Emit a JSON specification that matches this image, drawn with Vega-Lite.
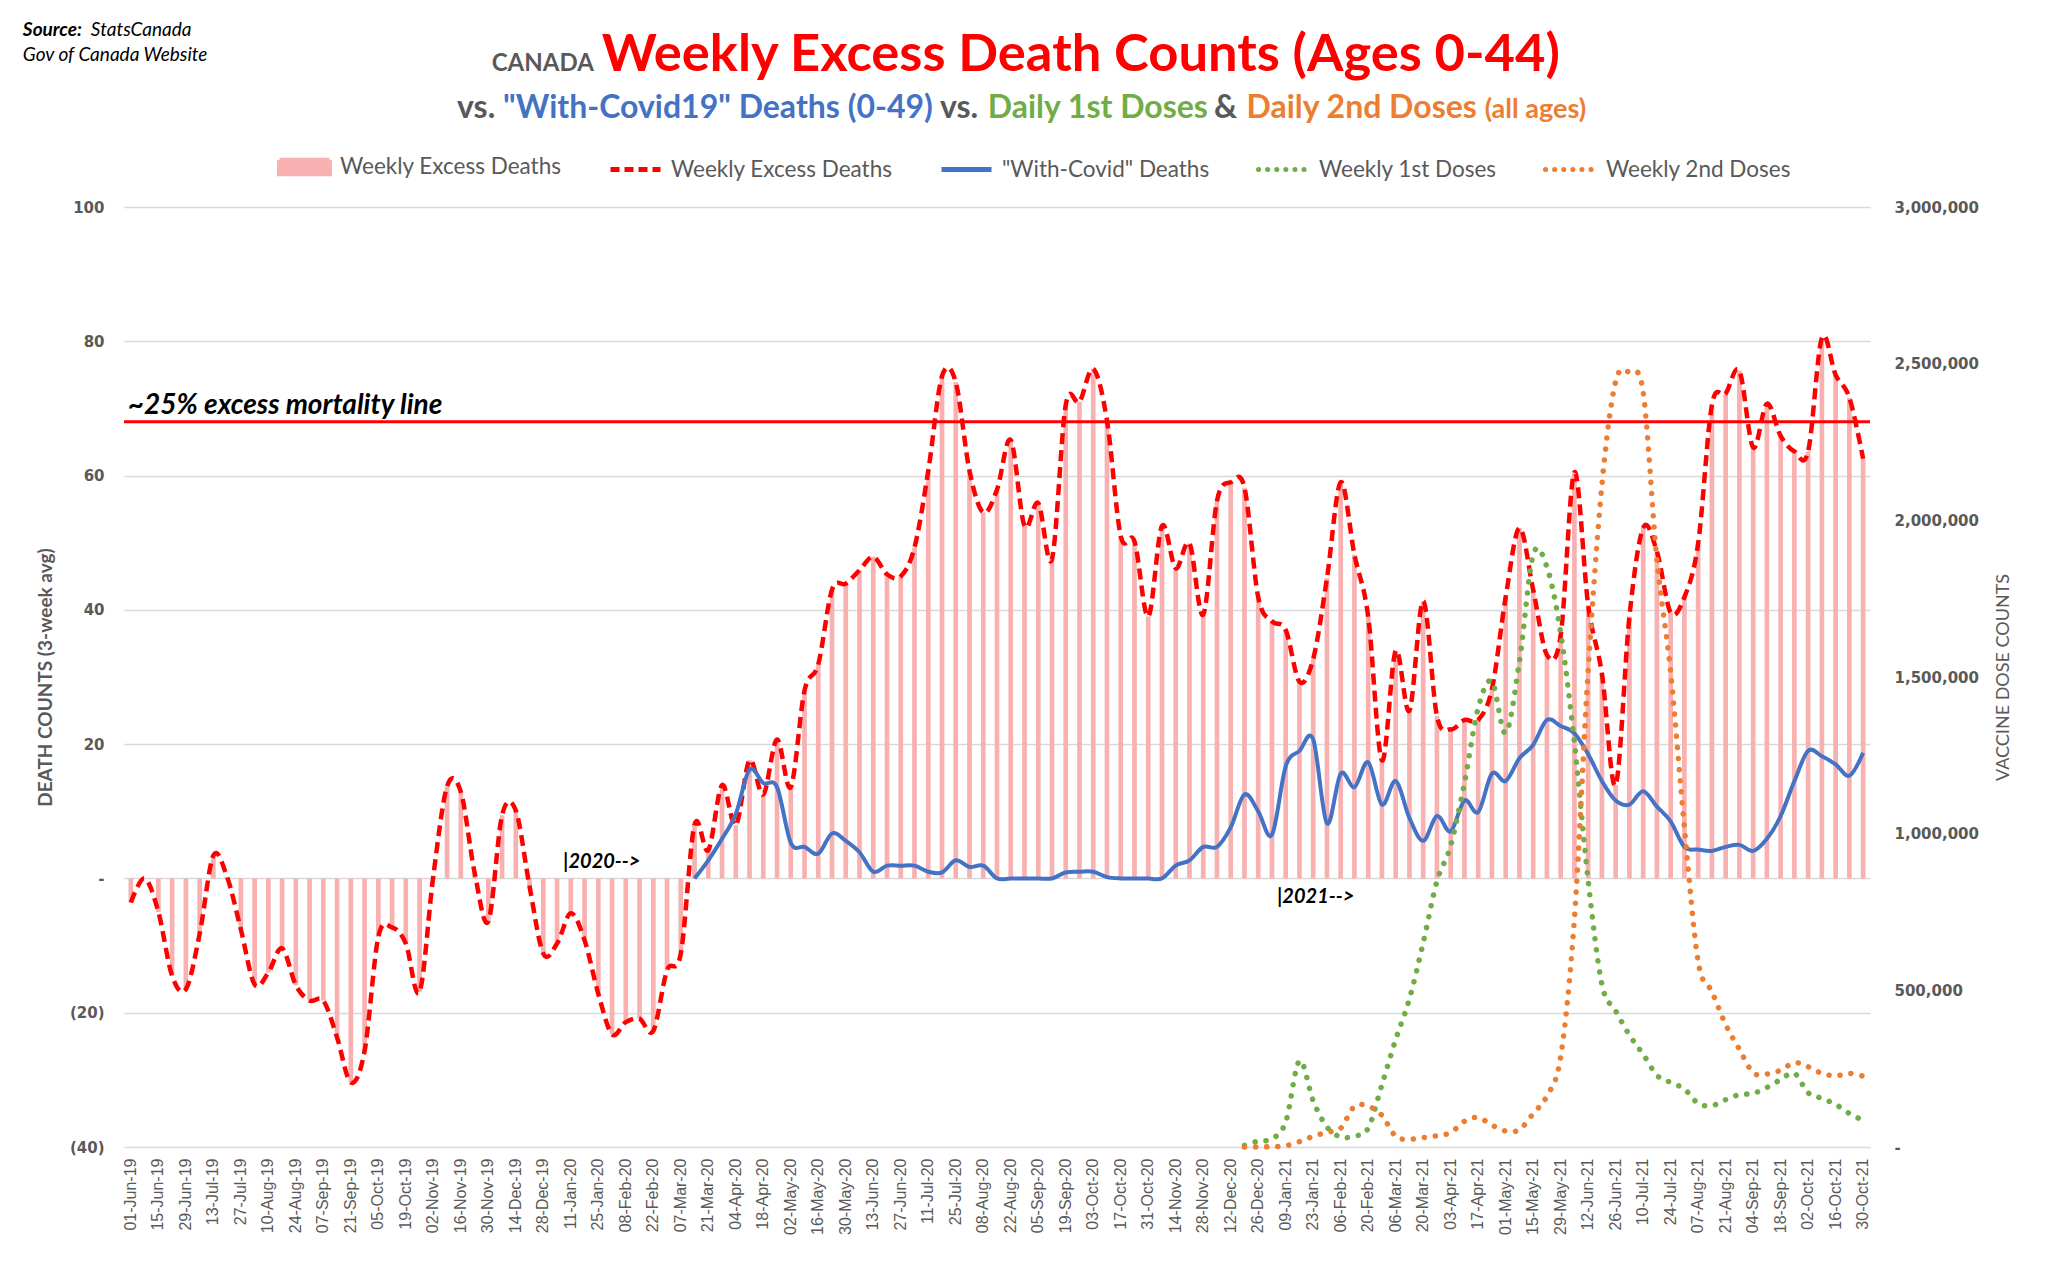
{
  "$schema": "https://vega.github.io/schema/vega-lite/v6.json",
  "autosize": {"type": "none"},
  "width": 1746,
  "height": 940,
  "padding": {"left": 124, "top": 207, "right": 178, "bottom": 119},
  "background": "white",
  "config": {
    "view": {"stroke": null},
    "font": "Lato",
    "axisX": {"labelFont": "Liberation Sans", "labelFontSize": 16, "labelColor": "#595959", "labelAngle": 270, "labelPadding": 11, "domain": false, "ticks": false, "grid": false, "labelOverlap": false},
    "axisLeft": {"labelFont": "DejaVu Sans", "labelFontWeight": "bold", "labelFontSize": 15, "labelColor": "#595959", "labelPadding": 20, "domain": false, "ticks": false, "grid": true, "gridColor": "#D9D9D9", "gridWidth": 1.5, "tickCount": 7, "labelExpr": "datum.value == 0 ? '-\u00a0\u00a0' : datum.value < 0 ? '(' + abs(datum.value) + ')' : datum.value + '\u00a0'", "titleFont": "Lato", "titleFontSize": 19, "titleFontWeight": "bold", "titleColor": "#595959", "titlePadding": 14},
    "axisRight": {"labelFont": "DejaVu Sans", "labelFontWeight": "bold", "labelFontSize": 15, "labelColor": "#595959", "labelPadding": 24, "domain": false, "ticks": false, "grid": false, "tickCount": 6, "labelExpr": "datum.value == 0 ? '-' : format(datum.value, ',')", "titleFont": "Lato", "titleFontSize": 18, "titleFontWeight": "normal", "titleColor": "#595959", "titlePadding": 34, "titleAngle": 270}
  },
  "data": {"values": [
    {"week":"01-Jun-19","excess":-3.6},
    {"week":"08-Jun-19","excess":0},
    {"week":"15-Jun-19","excess":-5},
    {"week":"22-Jun-19","excess":-14.5},
    {"week":"29-Jun-19","excess":-16.5},
    {"week":"06-Jul-19","excess":-8.3},
    {"week":"13-Jul-19","excess":3.4},
    {"week":"20-Jul-19","excess":0.2},
    {"week":"27-Jul-19","excess":-7.6},
    {"week":"03-Aug-19","excess":-15.8},
    {"week":"10-Aug-19","excess":-14},
    {"week":"17-Aug-19","excess":-10.4},
    {"week":"24-Aug-19","excess":-15.9},
    {"week":"31-Aug-19","excess":-18.2},
    {"week":"07-Sep-19","excess":-18.2},
    {"week":"14-Sep-19","excess":-23.7},
    {"week":"21-Sep-19","excess":-30.4},
    {"week":"28-Sep-19","excess":-25.7},
    {"week":"05-Oct-19","excess":-8.7},
    {"week":"12-Oct-19","excess":-7.3},
    {"week":"19-Oct-19","excess":-9.7},
    {"week":"26-Oct-19","excess":-16.9},
    {"week":"02-Nov-19","excess":0.4},
    {"week":"09-Nov-19","excess":13.7},
    {"week":"16-Nov-19","excess":12.9},
    {"week":"23-Nov-19","excess":0.9},
    {"week":"30-Nov-19","excess":-6.4},
    {"week":"07-Dec-19","excess":9.4},
    {"week":"14-Dec-19","excess":10.1},
    {"week":"21-Dec-19","excess":-1.2},
    {"week":"28-Dec-19","excess":-11.2},
    {"week":"04-Jan-20","excess":-9.7},
    {"week":"11-Jan-20","excess":-5.2},
    {"week":"18-Jan-20","excess":-9.2},
    {"week":"25-Jan-20","excess":-17.2},
    {"week":"01-Feb-20","excess":-23.2},
    {"week":"08-Feb-20","excess":-21.4},
    {"week":"15-Feb-20","excess":-20.9},
    {"week":"22-Feb-20","excess":-22.7},
    {"week":"29-Feb-20","excess":-13.7},
    {"week":"07-Mar-20","excess":-11.2},
    {"week":"14-Mar-20","excess":8,"covid":0},
    {"week":"21-Mar-20","excess":4.2,"covid":2.7},
    {"week":"28-Mar-20","excess":13.9,"covid":5.9},
    {"week":"04-Apr-20","excess":7.9,"covid":9.6},
    {"week":"11-Apr-20","excess":17.6,"covid":16.2},
    {"week":"18-Apr-20","excess":12.5,"covid":14.2},
    {"week":"25-Apr-20","excess":20.7,"covid":13.6},
    {"week":"02-May-20","excess":13.6,"covid":5.3},
    {"week":"09-May-20","excess":28,"covid":4.7},
    {"week":"16-May-20","excess":31.9,"covid":3.7},
    {"week":"23-May-20","excess":43,"covid":6.7},
    {"week":"30-May-20","excess":43.9,"covid":5.6},
    {"week":"06-Jun-20","excess":45.9,"covid":3.9},
    {"week":"13-Jun-20","excess":47.9,"covid":1},
    {"week":"20-Jun-20","excess":45.3,"covid":1.9},
    {"week":"27-Jun-20","excess":45,"covid":1.9},
    {"week":"04-Jul-20","excess":49.3,"covid":1.9},
    {"week":"11-Jul-20","excess":60.7,"covid":1},
    {"week":"18-Jul-20","excess":74.8,"covid":0.9},
    {"week":"25-Jul-20","excess":73.9,"covid":2.7},
    {"week":"01-Aug-20","excess":60.7,"covid":1.7},
    {"week":"08-Aug-20","excess":54.5,"covid":1.9},
    {"week":"15-Aug-20","excess":57.9,"covid":0},
    {"week":"22-Aug-20","excess":65.3,"covid":0},
    {"week":"29-Aug-20","excess":52.5,"covid":0},
    {"week":"05-Sep-20","excess":55.9,"covid":0},
    {"week":"12-Sep-20","excess":47.6,"covid":0},
    {"week":"19-Sep-20","excess":70.5,"covid":0.9},
    {"week":"26-Sep-20","excess":71,"covid":1},
    {"week":"03-Oct-20","excess":75.9,"covid":1},
    {"week":"10-Oct-20","excess":68.2,"covid":0.2},
    {"week":"17-Oct-20","excess":51,"covid":0},
    {"week":"24-Oct-20","excess":50.2,"covid":0},
    {"week":"31-Oct-20","excess":39,"covid":0},
    {"week":"07-Nov-20","excess":52.5,"covid":0},
    {"week":"14-Nov-20","excess":46.2,"covid":1.9},
    {"week":"21-Nov-20","excess":49.9,"covid":2.7},
    {"week":"28-Nov-20","excess":39.3,"covid":4.7},
    {"week":"05-Dec-20","excess":56.2,"covid":4.7},
    {"week":"12-Dec-20","excess":59,"covid":7.6},
    {"week":"19-Dec-20","excess":58.2,"covid":12.5,"dose1":5000,"dose2":0},
    {"week":"26-Dec-20","excess":41.9,"covid":10,"dose1":19000,"dose2":0},
    {"week":"02-Jan-21","excess":38.3,"covid":6.5,"dose1":26000,"dose2":1000},
    {"week":"09-Jan-21","excess":37,"covid":16.7,"dose1":80000,"dose2":4000},
    {"week":"16-Jan-21","excess":29.3,"covid":19,"dose1":275000,"dose2":17000},
    {"week":"23-Jan-21","excess":32.7,"covid":20.7,"dose1":147000,"dose2":34000},
    {"week":"30-Jan-21","excess":44.7,"covid":8.2,"dose1":64000,"dose2":47000},
    {"week":"06-Feb-21","excess":59,"covid":15.6,"dose1":32000,"dose2":60000},
    {"week":"13-Feb-21","excess":48.2,"covid":13.6,"dose1":35000,"dose2":130000},
    {"week":"20-Feb-21","excess":39,"covid":17.3,"dose1":60000,"dose2":130000},
    {"week":"27-Feb-21","excess":17.6,"covid":11,"dose1":199000,"dose2":101000},
    {"week":"06-Mar-21","excess":33.9,"covid":14.5,"dose1":343000,"dose2":34000},
    {"week":"13-Mar-21","excess":25,"covid":9,"dose1":473000,"dose2":25000},
    {"week":"20-Mar-21","excess":41.3,"covid":5.6,"dose1":652000,"dose2":30000},
    {"week":"27-Mar-21","excess":24.2,"covid":9.3,"dose1":848000,"dose2":36000},
    {"week":"03-Apr-21","excess":22.2,"covid":7,"dose1":962000,"dose2":46000},
    {"week":"10-Apr-21","excess":23.6,"covid":11.6,"dose1":1162000,"dose2":82000},
    {"week":"17-Apr-21","excess":23.6,"covid":9.9,"dose1":1401000,"dose2":94000},
    {"week":"24-Apr-21","excess":28.2,"covid":15.6,"dose1":1486000,"dose2":70000},
    {"week":"01-May-21","excess":41.9,"covid":14.5,"dose1":1321000,"dose2":51000},
    {"week":"08-May-21","excess":52.2,"covid":17.9,"dose1":1549000,"dose2":55000},
    {"week":"15-May-21","excess":43,"covid":19.9,"dose1":1890000,"dose2":107000},
    {"week":"22-May-21","excess":33.3,"covid":23.6,"dose1":1851000,"dose2":163000},
    {"week":"29-May-21","excess":36.2,"covid":22.7,"dose1":1640000,"dose2":288000},
    {"week":"05-Jun-21","excess":60.5,"covid":21.6,"dose1":1290000,"dose2":730000},
    {"week":"12-Jun-21","excess":40.7,"covid":18.5,"dose1":850000,"dose2":1521000},
    {"week":"19-Jun-21","excess":30.5,"covid":14.5,"dose1":519000,"dose2":2113000},
    {"week":"26-Jun-21","excess":13.9,"covid":11.6,"dose1":435000,"dose2":2443000},
    {"week":"03-Jul-21","excess":39,"covid":11,"dose1":357000,"dose2":2472000},
    {"week":"10-Jul-21","excess":52.2,"covid":13,"dose1":296000,"dose2":2409000},
    {"week":"17-Jul-21","excess":48.7,"covid":10.7,"dose1":229000,"dose2":1874000},
    {"week":"24-Jul-21","excess":39.6,"covid":8.5,"dose1":206000,"dose2":1515000},
    {"week":"31-Jul-21","excess":41.9,"covid":4.7,"dose1":185000,"dose2":1020000},
    {"week":"07-Aug-21","excess":49.9,"covid":4.3,"dose1":139000,"dose2":592000},
    {"week":"14-Aug-21","excess":70.5,"covid":4.1,"dose1":132000,"dose2":496000},
    {"week":"21-Aug-21","excess":72.2,"covid":4.7,"dose1":151000,"dose2":391000},
    {"week":"28-Aug-21","excess":75.6,"covid":5,"dose1":167000,"dose2":312000},
    {"week":"04-Sep-21","excess":64.2,"covid":4.1,"dose1":171000,"dose2":237000},
    {"week":"11-Sep-21","excess":70.7,"covid":5.9,"dose1":190000,"dose2":233000},
    {"week":"18-Sep-21","excess":65.9,"covid":9.3,"dose1":215000,"dose2":245000},
    {"week":"25-Sep-21","excess":63.6,"covid":14.5,"dose1":235000,"dose2":269000},
    {"week":"02-Oct-21","excess":63.6,"covid":19,"dose1":173000,"dose2":256000},
    {"week":"09-Oct-21","excess":80.5,"covid":18.2,"dose1":155000,"dose2":235000},
    {"week":"16-Oct-21","excess":75,"covid":17,"dose1":136000,"dose2":227000},
    {"week":"23-Oct-21","excess":71.6,"covid":15.3,"dose1":107000,"dose2":235000},
    {"week":"30-Oct-21","excess":62.5,"covid":18.7,"dose1":85000,"dose2":226000}
  ]},
  "layer": [
    {
      "layer": [
        {
          "mark": {"type": "bar"},
          "encoding": {
            "x": {"field": "week", "type": "ordinal", "title": null,
              "scale": {"paddingInner": 0.66, "paddingOuter": 0.33, "domain": ["01-Jun-19","08-Jun-19","15-Jun-19","22-Jun-19","29-Jun-19","06-Jul-19","13-Jul-19","20-Jul-19","27-Jul-19","03-Aug-19","10-Aug-19","17-Aug-19","24-Aug-19","31-Aug-19","07-Sep-19","14-Sep-19","21-Sep-19","28-Sep-19","05-Oct-19","12-Oct-19","19-Oct-19","26-Oct-19","02-Nov-19","09-Nov-19","16-Nov-19","23-Nov-19","30-Nov-19","07-Dec-19","14-Dec-19","21-Dec-19","28-Dec-19","04-Jan-20","11-Jan-20","18-Jan-20","25-Jan-20","01-Feb-20","08-Feb-20","15-Feb-20","22-Feb-20","29-Feb-20","07-Mar-20","14-Mar-20","21-Mar-20","28-Mar-20","04-Apr-20","11-Apr-20","18-Apr-20","25-Apr-20","02-May-20","09-May-20","16-May-20","23-May-20","30-May-20","06-Jun-20","13-Jun-20","20-Jun-20","27-Jun-20","04-Jul-20","11-Jul-20","18-Jul-20","25-Jul-20","01-Aug-20","08-Aug-20","15-Aug-20","22-Aug-20","29-Aug-20","05-Sep-20","12-Sep-20","19-Sep-20","26-Sep-20","03-Oct-20","10-Oct-20","17-Oct-20","24-Oct-20","31-Oct-20","07-Nov-20","14-Nov-20","21-Nov-20","28-Nov-20","05-Dec-20","12-Dec-20","19-Dec-20","26-Dec-20","02-Jan-21","09-Jan-21","16-Jan-21","23-Jan-21","30-Jan-21","06-Feb-21","13-Feb-21","20-Feb-21","27-Feb-21","06-Mar-21","13-Mar-21","20-Mar-21","27-Mar-21","03-Apr-21","10-Apr-21","17-Apr-21","24-Apr-21","01-May-21","08-May-21","15-May-21","22-May-21","29-May-21","05-Jun-21","12-Jun-21","19-Jun-21","26-Jun-21","03-Jul-21","10-Jul-21","17-Jul-21","24-Jul-21","31-Jul-21","07-Aug-21","14-Aug-21","21-Aug-21","28-Aug-21","04-Sep-21","11-Sep-21","18-Sep-21","25-Sep-21","02-Oct-21","09-Oct-21","16-Oct-21","23-Oct-21","30-Oct-21"]},
              "axis": {"values": ["01-Jun-19","15-Jun-19","29-Jun-19","13-Jul-19","27-Jul-19","10-Aug-19","24-Aug-19","07-Sep-19","21-Sep-19","05-Oct-19","19-Oct-19","02-Nov-19","16-Nov-19","30-Nov-19","14-Dec-19","28-Dec-19","11-Jan-20","25-Jan-20","08-Feb-20","22-Feb-20","07-Mar-20","21-Mar-20","04-Apr-20","18-Apr-20","02-May-20","16-May-20","30-May-20","13-Jun-20","27-Jun-20","11-Jul-20","25-Jul-20","08-Aug-20","22-Aug-20","05-Sep-20","19-Sep-20","03-Oct-20","17-Oct-20","31-Oct-20","14-Nov-20","28-Nov-20","12-Dec-20","26-Dec-20","09-Jan-21","23-Jan-21","06-Feb-21","20-Feb-21","06-Mar-21","20-Mar-21","03-Apr-21","17-Apr-21","01-May-21","15-May-21","29-May-21","12-Jun-21","26-Jun-21","10-Jul-21","24-Jul-21","07-Aug-21","21-Aug-21","04-Sep-21","18-Sep-21","02-Oct-21","16-Oct-21","30-Oct-21"]}},
            "y": {"field": "excess", "type": "quantitative", "title": "DEATH COUNTS (3-week avg)", "scale": {"domain": [-40, 100], "nice": false, "zero": false}},
            "color": {"datum": "bars", "type": "nominal",
              "scale": {"domain": ["bars", "excess", "covid", "dose1", "dose2"], "range": ["#F8B0B0", "#FF0000", "#4472C4", "#70AD47", "#ED7D31"]},
              "legend": {
                "orient": "none", "legendX": 153, "legendY": -68, "direction": "horizontal", "title": null,
                "symbolSize": 2500, "symbolStrokeWidth": 5, "labelFont": "Lato", "labelFontSize": 22.5, "labelColor": "#595959", "labelOffset": 8, "labelLimit": 500, "columnPadding": 38,
                "labelExpr": "datum.value === 'covid' ? '\"With-Covid\" Deaths' : datum.value === 'dose1' ? 'Weekly 1st Doses' : datum.value === 'dose2' ? 'Weekly 2nd Doses' : 'Weekly Excess Deaths'",
                "encode": {"symbols": {"update": {
                  "shape": {"signal": "datum.value === 'bars' ? 'M-1,-0.27H1V0.27H-1Z' : 'stroke'"},
                  "fill": {"signal": "datum.value === 'bars' ? '#F8B0B0' : 'transparent'"},
                  "stroke": {"signal": "datum.value === 'excess' ? '#FF0000' : datum.value === 'covid' ? '#4472C4' : datum.value === 'dose1' ? '#70AD47' : datum.value === 'dose2' ? '#ED7D31' : 'transparent'"},
                  "strokeDash": {"signal": "datum.value === 'excess' ? [9, 5] : (datum.value === 'dose1' || datum.value === 'dose2') ? [0.1, 9] : [1, 0]"},
                  "strokeCap": {"signal": "(datum.value === 'dose1' || datum.value === 'dose2') ? 'round' : 'butt'"},
                  "strokeWidth": {"value": 5},
                  "opacity": {"value": 1}
                }}}
              }
            }
          }
        },
        {
          "mark": {"type": "line", "interpolate": "cardinal", "strokeWidth": 4.5, "strokeDash": [11, 6]},
          "encoding": {
            "x": {"field": "week", "type": "ordinal", "title": null},
            "y": {"field": "excess", "type": "quantitative", "title": "DEATH COUNTS (3-week avg)"},
            "color": {"datum": "excess", "type": "nominal"}
          }
        },
        {
          "transform": [{"filter": "isValid(datum.covid)"}],
          "mark": {"type": "line", "interpolate": "cardinal", "strokeWidth": 4},
          "encoding": {
            "x": {"field": "week", "type": "ordinal", "title": null},
            "y": {"field": "covid", "type": "quantitative", "title": "DEATH COUNTS (3-week avg)"},
            "color": {"datum": "covid", "type": "nominal"}
          }
        },
        {
          "data": {"values": [{}]},
          "mark": {"type": "rule", "color": "#FF0000", "strokeWidth": 3},
          "encoding": {"y": {"datum": 68, "type": "quantitative", "title": "DEATH COUNTS (3-week avg)"}}
        },
        {
          "data": {"values": [{}]},
          "mark": {"type": "text", "text": "~25% excess mortality line", "font": "Lato", "fontSize": 28, "fontWeight": "bold", "fontStyle": "italic", "color": "#000000", "align": "left", "baseline": "alphabetic", "dx": -3},
          "encoding": {"x": {"datum": "01-Jun-19", "type": "ordinal", "title": null}, "y": {"datum": 69.2, "type": "quantitative", "title": "DEATH COUNTS (3-week avg)"}}
        },
        {
          "data": {"values": [{}]},
          "mark": {"type": "text", "text": "|2020-->", "font": "Lato", "fontSize": 20, "fontWeight": "bold", "fontStyle": "italic", "color": "#000000", "align": "left", "baseline": "middle", "dx": 6},
          "encoding": {"x": {"datum": "04-Jan-20", "type": "ordinal", "title": null}, "y": {"datum": 2.4, "type": "quantitative", "title": "DEATH COUNTS (3-week avg)"}}
        },
        {
          "data": {"values": [{}]},
          "mark": {"type": "text", "text": "|2021-->", "font": "Lato", "fontSize": 20, "fontWeight": "bold", "fontStyle": "italic", "color": "#000000", "align": "left", "baseline": "middle", "dx": 5},
          "encoding": {"x": {"datum": "02-Jan-21", "type": "ordinal", "title": null}, "y": {"datum": -2.7, "type": "quantitative", "title": "DEATH COUNTS (3-week avg)"}}
        },
        {
          "data": {"values": [{}]},
          "mark": {"type": "text", "text": "Source:", "font": "Lato", "fontSize": 19, "fontWeight": "bold", "fontStyle": "italic", "color": "#000000", "align": "left", "baseline": "alphabetic", "dx": -108},
          "encoding": {"x": {"datum": "01-Jun-19", "type": "ordinal", "title": null}, "y": {"datum": 125.5, "type": "quantitative", "title": "DEATH COUNTS (3-week avg)"}}
        },
        {
          "data": {"values": [{}]},
          "mark": {"type": "text", "text": "StatsCanada", "font": "Lato", "fontSize": 19, "fontStyle": "italic", "color": "#000000", "align": "left", "baseline": "alphabetic", "dx": -40},
          "encoding": {"x": {"datum": "01-Jun-19", "type": "ordinal", "title": null}, "y": {"datum": 125.5, "type": "quantitative", "title": "DEATH COUNTS (3-week avg)"}}
        },
        {
          "data": {"values": [{}]},
          "mark": {"type": "text", "text": "Gov of Canada Website", "font": "Lato", "fontSize": 19, "fontStyle": "italic", "color": "#000000", "align": "left", "baseline": "alphabetic", "dx": -108},
          "encoding": {"x": {"datum": "01-Jun-19", "type": "ordinal", "title": null}, "y": {"datum": 121.8, "type": "quantitative", "title": "DEATH COUNTS (3-week avg)"}}
        },
        {
          "data": {"values": [{}]},
          "mark": {"type": "text", "text": "CANADA", "font": "Lato", "fontSize": 24, "fontWeight": "bold", "color": "#595959", "align": "right", "baseline": "alphabetic", "dx": -4.5},
          "encoding": {"x": {"datum": "25-Jan-20", "type": "ordinal", "title": null}, "y": {"datum": 120.3, "type": "quantitative", "title": "DEATH COUNTS (3-week avg)"}}
        },
        {
          "data": {"values": [{}]},
          "mark": {"type": "text", "text": "Weekly Excess Death Counts (Ages 0-44)", "font": "Lato", "fontSize": 52.5, "fontWeight": "bold", "color": "#FF0000", "align": "left", "baseline": "alphabetic", "dx": 3.5},
          "encoding": {"x": {"datum": "25-Jan-20", "type": "ordinal", "title": null}, "y": {"datum": 120.3, "type": "quantitative", "title": "DEATH COUNTS (3-week avg)"}}
        },
        {
          "data": {"values": [{}]},
          "mark": {"type": "text", "text": "vs.", "font": "Lato", "fontSize": 32, "fontWeight": "bold", "color": "#595959", "align": "left", "baseline": "alphabetic", "dx": 10},
          "encoding": {"x": {"datum": "09-Nov-19", "type": "ordinal", "title": null}, "y": {"datum": 113.3, "type": "quantitative", "title": "DEATH COUNTS (3-week avg)"}}
        },
        {
          "data": {"values": [{}]},
          "mark": {"type": "text", "text": "\"With-Covid19\" Deaths (0-49)", "font": "Lato", "fontSize": 32, "fontWeight": "bold", "color": "#4472C4", "align": "left", "baseline": "alphabetic", "dx": 1},
          "encoding": {"x": {"datum": "07-Dec-19", "type": "ordinal", "title": null}, "y": {"datum": 113.3, "type": "quantitative", "title": "DEATH COUNTS (3-week avg)"}}
        },
        {
          "data": {"values": [{}]},
          "mark": {"type": "text", "text": "vs.", "font": "Lato", "fontSize": 32, "fontWeight": "bold", "color": "#595959", "align": "left", "baseline": "alphabetic", "dx": -2},
          "encoding": {"x": {"datum": "18-Jul-20", "type": "ordinal", "title": null}, "y": {"datum": 113.3, "type": "quantitative", "title": "DEATH COUNTS (3-week avg)"}}
        },
        {
          "data": {"values": [{}]},
          "mark": {"type": "text", "text": "Daily 1st Doses", "font": "Lato", "fontSize": 32, "fontWeight": "bold", "color": "#70AD47", "align": "left", "baseline": "alphabetic", "dx": 4.5},
          "encoding": {"x": {"datum": "08-Aug-20", "type": "ordinal", "title": null}, "y": {"datum": 113.3, "type": "quantitative", "title": "DEATH COUNTS (3-week avg)"}}
        },
        {
          "data": {"values": [{}]},
          "mark": {"type": "text", "text": "&", "font": "Lato", "fontSize": 32, "fontWeight": "bold", "color": "#595959", "align": "left", "baseline": "alphabetic", "dx": -3},
          "encoding": {"x": {"datum": "05-Dec-20", "type": "ordinal", "title": null}, "y": {"datum": 113.3, "type": "quantitative", "title": "DEATH COUNTS (3-week avg)"}}
        },
        {
          "data": {"values": [{}]},
          "mark": {"type": "text", "text": "Daily 2nd Doses", "font": "Lato", "fontSize": 32, "fontWeight": "bold", "color": "#ED7D31", "align": "left", "baseline": "alphabetic", "dx": 2},
          "encoding": {"x": {"datum": "19-Dec-20", "type": "ordinal", "title": null}, "y": {"datum": 113.3, "type": "quantitative", "title": "DEATH COUNTS (3-week avg)"}}
        },
        {
          "data": {"values": [{}]},
          "mark": {"type": "text", "text": "(all ages)", "font": "Lato", "fontSize": 27, "fontWeight": "bold", "color": "#ED7D31", "align": "left", "baseline": "alphabetic", "dx": 6.5},
          "encoding": {"x": {"datum": "17-Apr-21", "type": "ordinal", "title": null}, "y": {"datum": 113.3, "type": "quantitative", "title": "DEATH COUNTS (3-week avg)"}}
        }
      ]
    },
    {
      "layer": [
        {
          "transform": [{"filter": "isValid(datum.dose1)"}],
          "mark": {"type": "line", "interpolate": "cardinal", "strokeWidth": 5.5, "strokeDash": [0.1, 11], "strokeCap": "round"},
          "encoding": {
            "x": {"field": "week", "type": "ordinal", "title": null},
            "y": {"field": "dose1", "type": "quantitative", "title": "VACCINE DOSE COUNTS", "scale": {"domain": [0, 3000000], "nice": false}, "axis": {"orient": "right"}},
            "color": {"datum": "dose1", "type": "nominal"}
          }
        },
        {
          "transform": [{"filter": "isValid(datum.dose2)"}],
          "mark": {"type": "line", "interpolate": "cardinal", "strokeWidth": 5.5, "strokeDash": [0.1, 11], "strokeCap": "round"},
          "encoding": {
            "x": {"field": "week", "type": "ordinal", "title": null},
            "y": {"field": "dose2", "type": "quantitative", "title": "VACCINE DOSE COUNTS", "axis": {"orient": "right"}},
            "color": {"datum": "dose2", "type": "nominal"}
          }
        }
      ]
    }
  ],
  "resolve": {"scale": {"y": "independent"}}
}
